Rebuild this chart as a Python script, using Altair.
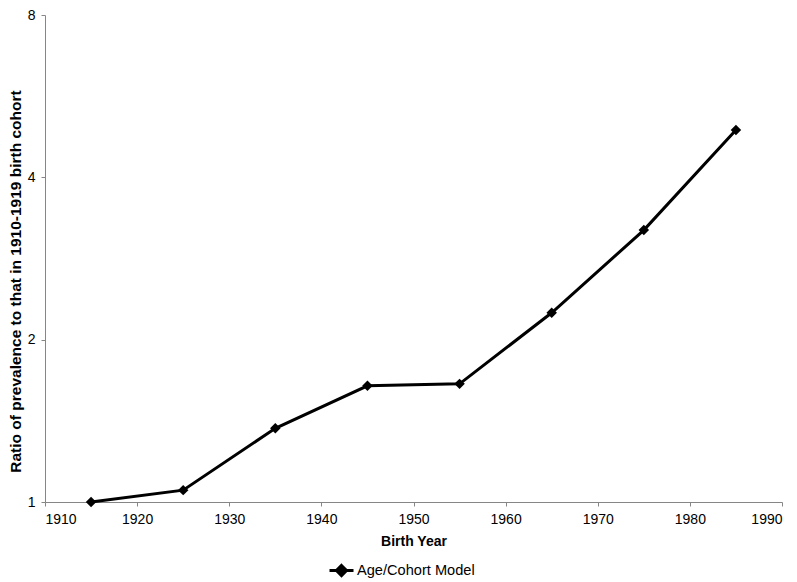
import altair as alt
import pandas as pd

years = [1915, 1925, 1935, 1945, 1955, 1965, 1975, 1985]
ratios = [1.0, 1.052, 1.370, 1.642, 1.656, 2.243, 3.193, 4.894]
series_name = "Age/Cohort Model"
x_ticks = [1910, 1920, 1930, 1940, 1950, 1960, 1970, 1980, 1990]
y_ticks = [1, 2, 4, 8]

df = pd.DataFrame({"year": years, "ratio": ratios, "series": [series_name] * len(years)})

FONT = "Liberation Sans"
legend_symbol = "M-1,0L1,0M0,-0.42L0.42,0L0,0.42L-0.42,0Z"

chart = (
    alt.Chart(df)
    .mark_line(
        strokeWidth=3,
        point=alt.OverlayMarkDef(shape="diamond", size=110, filled=True, color="black"),
    )
    .encode(
        x=alt.X(
            "year:Q",
            scale=alt.Scale(domain=[1910, 1990], nice=False, zero=False),
            axis=alt.Axis(
                values=x_ticks, format="d", title="Birth Year", grid=False,
                tickSize=4, labelPadding=6, titlePadding=8,
            ),
        ),
        y=alt.Y(
            "ratio:Q",
            scale=alt.Scale(type="log", base=2, domain=[1, 8], nice=False),
            axis=alt.Axis(
                values=y_ticks, format="d",
                title="Ratio of prevalence to that in 1910-1919 birth cohort",
                grid=False, tickSize=4, labelPadding=6, titlePadding=4,
                titleFontSize=15.5, titleY=266,
            ),
        ),
        color=alt.Color(
            "series:N",
            scale=alt.Scale(range=["black"]),
            legend=alt.Legend(
                title=None, orient="none", legendX=283, legendY=542,
                symbolType=legend_symbol, symbolSize=576, symbolStrokeWidth=3,
                symbolFillColor="black", symbolStrokeColor="black",
                labelFontSize=14.6, labelFont=FONT, labelColor="black", labelOffset=2,
            ),
        ),
    )
    .properties(width=737, height=487, padding=0)
    .configure_axis(
        labelFont=FONT, labelFontSize=14, labelColor="black",
        titleFont=FONT, titleFontSize=14, titleFontWeight="bold", titleColor="black",
        domainColor="#868686", tickColor="#868686", domainWidth=1, tickWidth=1,
    )
    .configure_view(stroke=None)
)

chart.save("out.html", embed_options={"renderer": "svg", "actions": False})
